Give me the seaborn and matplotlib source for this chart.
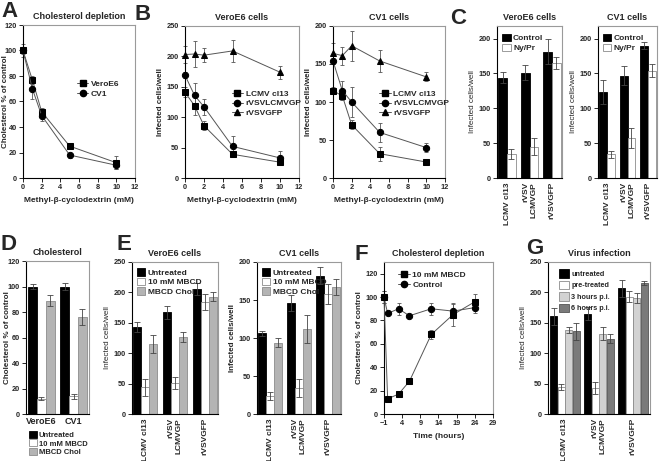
"""
Cholesterol depletion / virus infection multi-panel figure
"""

import matplotlib
matplotlib.use("Agg")
import matplotlib.pyplot as plt
from matplotlib.patches import Patch
from matplotlib.lines import Line2D
import seaborn as sns
import pandas as pd

sns.set_theme(style="ticks")
plt.rcParams["font.family"] = ["Liberation Sans", "DejaVu Sans"]
plt.rcParams["font.weight"] = "bold"
plt.rcParams["axes.titleweight"] = "bold"
plt.rcParams["axes.labelweight"] = "bold"

# ---- data -------------------------------------------------------------
mbcd_mM = [0, 1, 2, 5, 10]

a_vero = [100, 77, 52, 25, 12]
a_vero_err = [3, 3, 3, 2, 5]
a_cv1 = [100, 70, 49, 18, 10]
a_cv1_err = [5, 8, 4, 2, 3]

b_vero_lcmv = [141, 119, 86, 39, 26]
b_vero_lcmv_err = [8, 15, 7, 5, 3]
b_vero_vsvgp = [169, 136, 117, 52, 33]
b_vero_vsvgp_err = [5, 21, 13, 17, 12]
b_vero_gfp = [203, 204, 202, 209, 174]
b_vero_gfp_err = [14, 22, 12, 18, 11]

b_cv1_lcmv = [115, 108, 70, 32, 21]
b_cv1_lcmv_err = [5, 6, 6, 9, 2]
b_cv1_vsvgp = [154, 115, 100, 60, 40]
b_cv1_vsvgp_err = [4, 12, 20, 13, 6]
b_cv1_gfp = [164, 161, 174, 154, 133]
b_cv1_gfp_err = [14, 12, 20, 14, 6]

viruses = ["LCMV cl13", "rVSV\nLCMVGP", "rVSVGFP"]

c_vero_ctrl = [144, 151, 181]
c_vero_ctrl_err = [8, 11, 18]
c_vero_nypr = [34, 45, 165]
c_vero_nypr_err = [7, 12, 8]
c_cv1_ctrl = [123, 147, 190]
c_cv1_ctrl_err = [17, 13, 5]
c_cv1_nypr = [34, 57, 154]
c_cv1_nypr_err = [5, 14, 9]

cells = ["VeroE6", "CV1"]
d_untreated = [100, 100]
d_untreated_err = [2, 3]
d_mbcd = [12, 14]
d_mbcd_err = [1, 2]
d_chol = [89, 76]
d_chol_err = [4, 6]

e_vero_untr = [143, 167, 206]
e_vero_untr_err = [8, 11, 10]
e_vero_mbcd = [44, 51, 184]
e_vero_mbcd_err = [14, 10, 13]
e_vero_chol = [115, 127, 193]
e_vero_chol_err = [15, 8, 7]

e_cv1_untr = [106, 146, 182]
e_cv1_untr_err = [3, 11, 11]
e_cv1_mbcd = [24, 34, 158]
e_cv1_mbcd_err = [5, 12, 13]
e_cv1_chol = [94, 112, 167]
e_cv1_chol_err = [6, 18, 11]

f_hours = [-1, 0, 3, 6, 12, 18, 24]
f_mbcd = [100, 13, 17, 28, 68, 85, 96]
f_mbcd_err = [5, 1, 1, 1, 4, 10, 7]
f_ctrl = [100, 86, 90, 84, 90, 88, 91]
f_ctrl_err = [5, 1, 5, 1, 5, 6, 5]

g_untr = [161, 165, 207]
g_untr_err = [14, 11, 14]
g_pre = [45, 43, 193]
g_pre_err = [5, 10, 9]
g_3h = [138, 132, 191]
g_3h_err = [5, 11, 8]
g_6h = [136, 124, 215]
g_6h_err = [14, 7, 3]

# ---- layout helpers ---------------------------------------------------
W, H = 664, 461
fig = plt.figure(figsize=(W / 100, H / 100), dpi=100)

BLACK = "#000000"
WHITE = "#ffffff"
GREY = "#b4b4b4"
LIGHT = "#d2d2d2"
DARK = "#7a7a7a"
EDGE = {BLACK: BLACK, WHITE: "#8c8c8c", GREY: "#8c8c8c",
        LIGHT: "#8c8c8c", DARK: "#555555"}
TICK_FS = 5.3


def px_axes(l, t, r, b):
    ax = fig.add_axes([l / W, 1 - b / H, (r - l) / W, (b - t) / H])
    ax._px = (l, r)
    return ax


def style(ax, title=None, ylabel=None, ylabel_bold=True, ylabel_px=None):
    for s in ["left", "bottom"]:
        ax.spines[s].set_color("black")
        ax.spines[s].set_linewidth(0.8)
    for s in ["top", "right"]:
        ax.spines[s].set_color("#9a9a9a")
        ax.spines[s].set_linewidth(0.8)
    ax.tick_params(axis="y", direction="out", length=3, width=0.7,
                   labelsize=TICK_FS, pad=1.5, right=False)
    if title:
        ax.set_title(title, fontsize=6.5, pad=4)
    ax.set_ylabel(ylabel or "", fontsize=5.8, labelpad=2,
                  fontweight="bold" if ylabel_bold else "normal")
    if ylabel_px is not None:
        l, r = ax._px
        ax.yaxis.set_label_coords((ylabel_px - l) / (r - l), 0.5)


def panel_letter(x, y, s):
    fig.text(x / W, 1 - y / H, s, fontsize=16, fontweight="bold",
             va="top", ha="left")


def line_panel(ax, x, series, xlabel, legend_at):
    handles = []
    for label, vals, errs, marker in series:
        sns.lineplot(x=x, y=vals, ax=ax, color="#555555", linewidth=0.7,
                     marker=marker, markersize=4.5 if marker != "^" else 5,
                     markerfacecolor="black", markeredgecolor="black",
                     errorbar=None, legend=False, clip_on=False, zorder=4)
        ax.errorbar(x, vals, yerr=errs, fmt="none", ecolor="#555555",
                    elinewidth=0.6, capsize=1.5, capthick=0.6, clip_on=False)
        handles.append(Line2D([], [], color="#555555", lw=0.7, marker=marker,
                              markersize=4.5, markerfacecolor="black",
                              markeredgecolor="black", label=label))
    ax.set_xlabel(xlabel, fontsize=6, labelpad=4)
    ax.tick_params(axis="x", direction="out", length=3, width=0.7,
                   labelsize=TICK_FS, pad=1.5, top=False)
    ax.legend(handles=handles, loc="upper left", bbox_to_anchor=legend_at,
              frameon=False, fontsize=6, handlelength=1.4,
              handletextpad=0.3, borderaxespad=0, labelspacing=0.2)


def bar_panel(ax, groups, series, width, gap=0.0):
    rows = []
    for cond, vals, errs, color in series:
        for g, v, e in zip(groups, vals, errs):
            rows.append({"group": g, "val": v, "err": e, "cond": cond})
    df = pd.DataFrame(rows)
    pal = {cond: color for cond, _, _, color in series}
    sns.barplot(data=df, x="group", y="val", hue="cond", palette=pal,
                width=width, gap=gap, saturation=1, errorbar=None,
                legend=False, ax=ax, linewidth=0.6)
    for patch, (_, r) in zip(ax.patches, df.iterrows()):
        fc = pal[r["cond"]]
        patch.set_edgecolor(EDGE[fc])
        xc = patch.get_x() + patch.get_width() / 2
        ax.errorbar(xc, r["val"], yerr=r["err"], fmt="none",
                    ecolor="#444444", elinewidth=0.6, capsize=2,
                    capthick=0.6, zorder=3)
    ax.set_xlabel("")
    ax.set_xlim(-0.5, len(groups) - 0.5)


def bar_legend(ax, series, loc_at, fontsize=6, spacing=0.15, size=1.0):
    handles = [Patch(facecolor=c, edgecolor=EDGE[c], linewidth=0.6, label=n)
               for n, _, _, c in series]
    ax.legend(handles=handles, loc="upper left", bbox_to_anchor=loc_at,
              frameon=False, fontsize=fontsize, handlelength=size,
              handleheight=size, handletextpad=0.3, borderaxespad=0,
              labelspacing=spacing)


def rot_ticks(ax, labels):
    ax.set_xticks(range(len(labels)))
    ax.set_xticklabels(labels, rotation=90, fontsize=6,
                       multialignment="right", va="top")
    ax.tick_params(axis="x", length=0, pad=3)


# ---- A ----------------------------------------------------------------
ax = px_axes(23, 25, 135, 178)
line_panel(ax, mbcd_mM,
           [("VeroE6", a_vero, a_vero_err, "s"),
            ("CV1", a_cv1, a_cv1_err, "o")],
           "Methyl-\u03b2-cyclodextrin (mM)", (0.45, 0.66))
ax.set_xlim(0, 12)
ax.set_ylim(0, 120)
ax.set_xticks(range(0, 13, 2))
ax.set_yticks(range(0, 121, 20))
style(ax, "Cholesterol depletion", "Cholesterol % of control", ylabel_px=9)
panel_letter(1, 1, "A")

# ---- B ----------------------------------------------------------------
ax = px_axes(185, 26, 299, 178)
line_panel(ax, mbcd_mM,
           [("LCMV cl13", b_vero_lcmv, b_vero_lcmv_err, "s"),
            ("rVSVLCMVGP", b_vero_vsvgp, b_vero_vsvgp_err, "o"),
            ("rVSVGFP", b_vero_gfp, b_vero_gfp_err, "^")],
           "Methyl-\u03b2-cyclodextrin (mM)", (0.38, 0.6))
ax.set_xlim(0, 12)
ax.set_ylim(0, 250)
ax.set_xticks(range(0, 13, 2))
ax.set_yticks(range(0, 251, 50))
style(ax, "VeroE6 cells", "Infected cells/well")
panel_letter(134, 4, "B")

ax = px_axes(333, 26, 445, 178)
line_panel(ax, mbcd_mM,
           [("LCMV cl13", b_cv1_lcmv, b_cv1_lcmv_err, "s"),
            ("rVSVLCMVGP", b_cv1_vsvgp, b_cv1_vsvgp_err, "o"),
            ("rVSVGFP", b_cv1_gfp, b_cv1_gfp_err, "^")],
           "Methyl-\u03b2-cyclodextrin (mM)", (0.38, 0.6))
ax.set_xlim(0, 12)
ax.set_ylim(0, 200)
ax.set_xticks(range(0, 13, 2))
ax.set_yticks(range(0, 201, 50))
style(ax, "CV1 cells", "Infected cells/well")

# ---- C ----------------------------------------------------------------
c_vero = [("Control", c_vero_ctrl, c_vero_ctrl_err, BLACK),
          ("Ny/Pr", c_vero_nypr, c_vero_nypr_err, WHITE)]
c_cv1 = [("Control", c_cv1_ctrl, c_cv1_ctrl_err, BLACK),
         ("Ny/Pr", c_cv1_nypr, c_cv1_nypr_err, WHITE)]
for (l, r), series in [((497, 562), c_vero), ((598, 657), c_cv1)]:
    ax = px_axes(l, 26, r, 178)
    bar_panel(ax, viruses, series, width=0.78)
    ax.set_xlim(-0.45, 2.45)
    ax.set_ylim(0, 218)
    ax.set_yticks(range(0, 201, 50))
    rot_ticks(ax, viruses)
    bar_legend(ax, series, (0.03, 0.97))
    style(ax, "VeroE6 cells" if series is c_vero else "CV1 cells",
          "Infected cells/well", ylabel_bold=False)
panel_letter(450, 8, "C")

# ---- D ----------------------------------------------------------------
d_series = [("Untreated", d_untreated, d_untreated_err, BLACK),
            ("10 mM MBCD", d_mbcd, d_mbcd_err, WHITE),
            ("MBCD Chol", d_chol, d_chol_err, GREY)]
ax = px_axes(26, 261, 89, 414)
bar_panel(ax, cells, d_series, width=0.82)
ax.set_xlim(-0.48, 1.48)
ax.set_ylim(0, 120)
ax.set_yticks(range(0, 121, 20))
ax.set_xticks(range(len(cells)))
ax.set_xticklabels(cells, fontsize=6.5)
ax.tick_params(axis="x", length=0, pad=2)
style(ax, "Cholesterol", "Cholesterol % of control", ylabel_px=11)
bar_legend(ax, d_series, (0.0, -0.09), fontsize=5.5, spacing=0.08)
panel_letter(1, 234, "D")

# ---- E ----------------------------------------------------------------
e_vero = [("Untreated", e_vero_untr, e_vero_untr_err, BLACK),
          ("10 mM MBCD", e_vero_mbcd, e_vero_mbcd_err, WHITE),
          ("MBCD Chol", e_vero_chol, e_vero_chol_err, GREY)]
e_cv1 = [("Untreated", e_cv1_untr, e_cv1_untr_err, BLACK),
         ("10 mM MBCD", e_cv1_mbcd, e_cv1_mbcd_err, WHITE),
         ("MBCD Chol", e_cv1_chol, e_cv1_chol_err, GREY)]

ax = px_axes(132, 262, 218, 414)
bar_panel(ax, viruses, e_vero, width=0.8)
ax.set_xlim(-0.45, 2.45)
ax.set_ylim(0, 250)
ax.set_yticks(range(0, 251, 50))
rot_ticks(ax, viruses)
bar_legend(ax, e_vero, (0.02, 0.98), spacing=0.1)
style(ax, "VeroE6 cells", "Infected cells/well", ylabel_bold=False)
panel_letter(116, 234, "E")

ax = px_axes(257, 262, 341, 414)
bar_panel(ax, viruses, e_cv1, width=0.8)
ax.set_xlim(-0.45, 2.45)
ax.set_ylim(0, 200)
ax.set_yticks(range(0, 201, 50))
rot_ticks(ax, viruses)
bar_legend(ax, e_cv1, (0.02, 0.98), spacing=0.1)
style(ax, "CV1 cells", "Infected cells/well")

# ---- F ----------------------------------------------------------------
ax = px_axes(384, 262, 493, 414)
line_panel(ax, f_hours,
           [("10 mM MBCD", f_mbcd, f_mbcd_err, "s"),
            ("Control", f_ctrl, f_ctrl_err, "o")],
           "Time (hours)", (0.1, 0.96))
ax.set_xlim(-1, 29)
ax.set_ylim(0, 130)
ax.set_xticks(range(-1, 30, 5))
ax.set_yticks(range(0, 121, 20))
style(ax, "Cholesterol depletion", "Cholesterol % of control")
panel_letter(354, 244, "F")

# ---- G ----------------------------------------------------------------
g_series = [("untreated", g_untr, g_untr_err, BLACK),
            ("pre-treated", g_pre, g_pre_err, WHITE),
            ("3 hours p.i.", g_3h, g_3h_err, LIGHT),
            ("6 hours p.i.", g_6h, g_6h_err, DARK)]
ax = px_axes(548, 262, 650, 414)
bar_panel(ax, viruses, g_series, width=0.88, gap=0.12)
ax.set_xlim(-0.5, 2.5)
ax.set_ylim(0, 250)
ax.set_yticks(range(0, 251, 50))
rot_ticks(ax, viruses)
bar_legend(ax, g_series, (0.08, 0.97), fontsize=5.2, spacing=0.4, size=1.4)
style(ax, "Virus infection", "Infected cells/well", ylabel_bold=False)
panel_letter(526, 238, "G")

plt.savefig("out.png", dpi=100)
